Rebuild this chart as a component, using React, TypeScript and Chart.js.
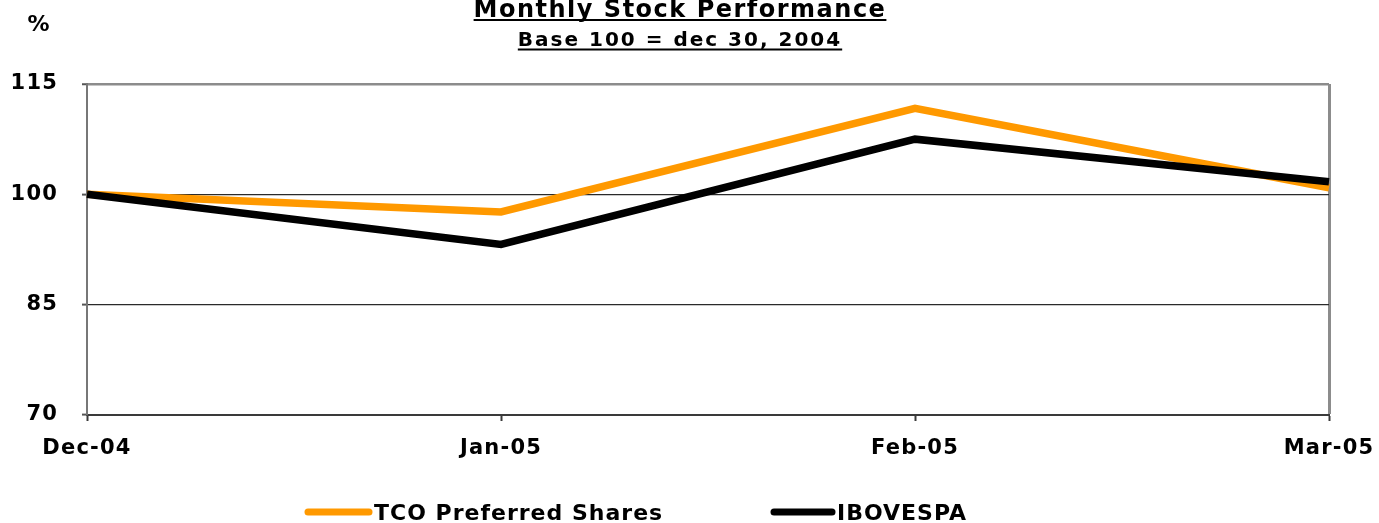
import React, { useEffect, useRef } from "react";
import { Chart, registerables } from "chart.js";

Chart.register(...registerables);

const categories = ["Dec-04", "Jan-05", "Feb-05", "Mar-05"];
const tcoPreferred = [100, 97.6, 111.7, 100.9];
const ibovespa = [100, 93.2, 107.5, 101.7];
const yTicks = [70, 85, 100, 115];

const TITLE = "Monthly Stock Performance";
const SUBTITLE = "Base 100 = dec 30, 2004";
const Y_UNIT = "%";
const SERIES_NAMES = ["TCO Preferred Shares", "IBOVESPA"];
const ORANGE = "#FF9900";
const BLACK = "#000000";
const FONT = "'DejaVu Sans', Verdana, sans-serif";

const overlayPlugin = {
  id: "overlay",
  beforeDraw(chart: any) {
    (chart.ctx as any).letterSpacing = "1.2px";
  },
  afterDraw(chart: any) {
    const ctx = chart.ctx as CanvasRenderingContext2D;
    ctx.save();
    ctx.fillStyle = "#000";
    ctx.strokeStyle = "#000";

    const underlined = (text: string, size: number, spacing: string, cx: number, baseline: number, uy: number) => {
      ctx.font = `bold ${size}px ${FONT}`;
      (ctx as any).letterSpacing = spacing;
      ctx.textAlign = "center";
      ctx.textBaseline = "alphabetic";
      ctx.fillText(text, cx, baseline);
      const w = ctx.measureText(text).width;
      ctx.lineWidth = 2;
      ctx.beginPath();
      ctx.moveTo(cx - w / 2, uy);
      ctx.lineTo(cx + w / 2, uy);
      ctx.stroke();
    };
    underlined(TITLE, 24, "1.5px", 680, 17, 20);
    underlined(SUBTITLE, 20, "2px", 680, 46, 49.5);

    ctx.font = `bold 22px ${FONT}`;
    (ctx as any).letterSpacing = "1px";
    ctx.textAlign = "center";
    ctx.textBaseline = "middle";
    ctx.fillText(Y_UNIT, 39, 25);

    // legend
    const items = [
      { name: SERIES_NAMES[0], color: ORANGE, x0: 308, x1: 369, tx: 374 },
      { name: SERIES_NAMES[1], color: BLACK, x0: 774, x1: 832, tx: 837 },
    ];
    const ly = 512;
    for (const it of items) {
      ctx.strokeStyle = it.color;
      ctx.lineWidth = 7;
      ctx.lineCap = "round";
      ctx.beginPath();
      ctx.moveTo(it.x0, ly);
      ctx.lineTo(it.x1, ly);
      ctx.stroke();
      ctx.fillStyle = "#000";
      ctx.font = `bold 22px ${FONT}`;
      (ctx as any).letterSpacing = "1px";
      ctx.textAlign = "left";
      ctx.textBaseline = "middle";
      ctx.fillText(it.name, it.tx, ly + 2);
    }
    ctx.restore();
  },
};

export default function App() {
  const ref = useRef<HTMLCanvasElement | null>(null);

  useEffect(() => {
    if (!ref.current) return;
    const chart = new Chart(ref.current, {
      type: "line",
      data: {
        labels: categories,
        datasets: [
          {
            label: SERIES_NAMES[0],
            data: tcoPreferred,
            borderColor: ORANGE,
            backgroundColor: ORANGE,
            borderWidth: 7.5,
            pointRadius: 0,
            tension: 0,
            order: 1,
          },
          {
            label: SERIES_NAMES[1],
            data: ibovespa,
            borderColor: BLACK,
            backgroundColor: BLACK,
            borderWidth: 7.5,
            pointRadius: 0,
            tension: 0,
            order: 0,
          },
        ],
      },
      options: {
        responsive: false,
        animation: false,
        devicePixelRatio: 1,
        layout: { padding: { top: 84, right: 50, bottom: 48, left: 0 } },
        plugins: {
          legend: { display: false },
          title: { display: false },
          tooltip: { enabled: false },
        },
        scales: {
          x: {
            offset: false,
            afterFit: (s: any) => {
              s.height = 60;
              s.paddingLeft = 0;
              s.paddingRight = 0;
            },
            border: { display: true, color: "#3a3a3a", width: 2 },
            grid: {
              drawOnChartArea: true,
              drawTicks: true,
              tickLength: 6,
              color: (c: any) => (c.index === categories.length - 1 ? "#8c8c8c" : "rgba(0,0,0,0)"),
              lineWidth: (c: any) => (c.index === categories.length - 1 ? 3 : 1),
              tickColor: "#3a3a3a",
              tickWidth: 2,
            },
            ticks: {
              color: "#000",
              padding: 15,
              maxRotation: 0,
              autoSkip: false,
              font: { family: FONT, weight: "bold", size: 21 },
            },
          },
          y: {
            min: 70,
            max: 115,
            afterFit: (s: any) => {
              s.width = 87;
              s.paddingTop = 0;
              s.paddingBottom = 0;
            },
            afterBuildTicks: (s: any) => {
              s.ticks = yTicks.map((v) => ({ value: v }));
            },
            border: { display: true, color: "#777777", width: 2 },
            grid: {
              drawTicks: true,
              tickLength: 5,
              color: (c: any) =>
                c.tick && c.tick.value === 115 ? "#8c8c8c" : c.tick && c.tick.value === 70 ? "#3a3a3a" : "#2a2a2a",
              lineWidth: (c: any) => (c.tick && c.tick.value === 115 ? 2.5 : 1.2),
              tickColor: "#555555",
              tickWidth: 2,
            },
            ticks: {
              color: "#000",
              padding: 24,
              font: { family: FONT, weight: "bold", size: 21 },
            },
          },
        },
      },
      plugins: [overlayPlugin],
    } as any);
    return () => chart.destroy();
  }, []);

  return (
    <div style={{ position: "fixed", left: 0, top: 0, width: 1379, height: 523, background: "#fff" }}>
      <canvas ref={ref} width={1379} height={523} style={{ display: "block" }} />
    </div>
  );
}
